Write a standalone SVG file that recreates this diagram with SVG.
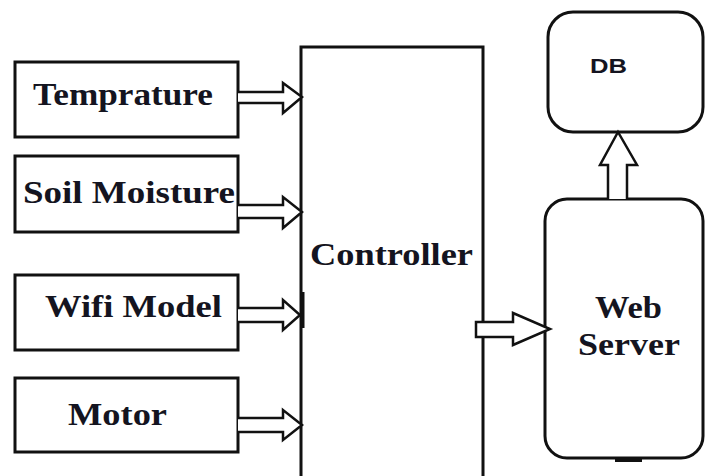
<svg xmlns="http://www.w3.org/2000/svg" width="705" height="476" viewBox="0 0 705 476">
<style>
.box{fill:#fff;stroke:#111;stroke-width:3}
.arr{fill:#fff;stroke:#111;stroke-width:2.5;stroke-linejoin:miter}
.t{font-family:"Liberation Serif","Times New Roman",serif;font-weight:bold;font-size:31px;fill:#141420}
.s{font-family:"Liberation Sans",Arial,sans-serif;font-weight:bold;font-size:20px;fill:#141420}
</style>
<rect width="705" height="476" fill="#fff"/>
<g id="temprature"><rect class="box" x="15" y="62" width="223" height="75"/><text class="t" x="33" y="105" textLength="180" lengthAdjust="spacingAndGlyphs">Temprature</text></g>
<g id="soil-moisture"><rect class="box" x="15" y="156" width="223" height="76"/><text class="t" x="23" y="203" textLength="212" lengthAdjust="spacingAndGlyphs">Soil Moisture</text></g>
<g id="wifi-model"><rect class="box" x="15" y="275" width="223" height="75"/><text class="t" x="45" y="317" textLength="177" lengthAdjust="spacingAndGlyphs">Wifi Model</text></g>
<g id="motor"><rect class="box" x="15" y="378" width="223" height="74"/><text class="t" x="68" y="425" textLength="99" lengthAdjust="spacingAndGlyphs">Motor</text></g>
<g id="controller"><rect class="box" x="301" y="47" width="182" height="440"/><text class="t" x="310" y="265" textLength="163" lengthAdjust="spacingAndGlyphs">Controller</text></g>
<g id="db"><rect class="box" x="548" y="12" width="155" height="120" rx="25"/><text class="s" x="590" y="73" textLength="37" lengthAdjust="spacingAndGlyphs">DB</text></g>
<g id="web-server"><rect class="box" x="545" y="199" width="158" height="259" rx="22"/><rect x="615" y="458" width="27" height="4" fill="#111"/><text class="t" x="595" y="318" textLength="67" lengthAdjust="spacingAndGlyphs">Web</text><text class="t" x="578" y="355" textLength="102" lengthAdjust="spacingAndGlyphs">Server</text></g>
<g id="connectors">
<path class="arr" d="M238,92 H283 V83 L302,97 L283,113 V103 H238"/>
<path class="arr" d="M238,205 H283 V197 L302,212 L283,228 V218 H238"/>
<path class="arr" d="M238,308 H283 V300 L300,315 L283,330 V322 H238"/>
<rect x="300" y="292" width="4.5" height="36" fill="#111"/>
<path class="arr" d="M238,418 H283 V410 L302,425 L283,440 V432 H238"/>
<path class="arr" d="M476,322 H513 V313 L550,329 L513,345 V337 H476 Z"/>
<path class="arr" d="M608,199 V165 H600 L618,132 L637,165 H627 V199"/>
</g>
</svg>
